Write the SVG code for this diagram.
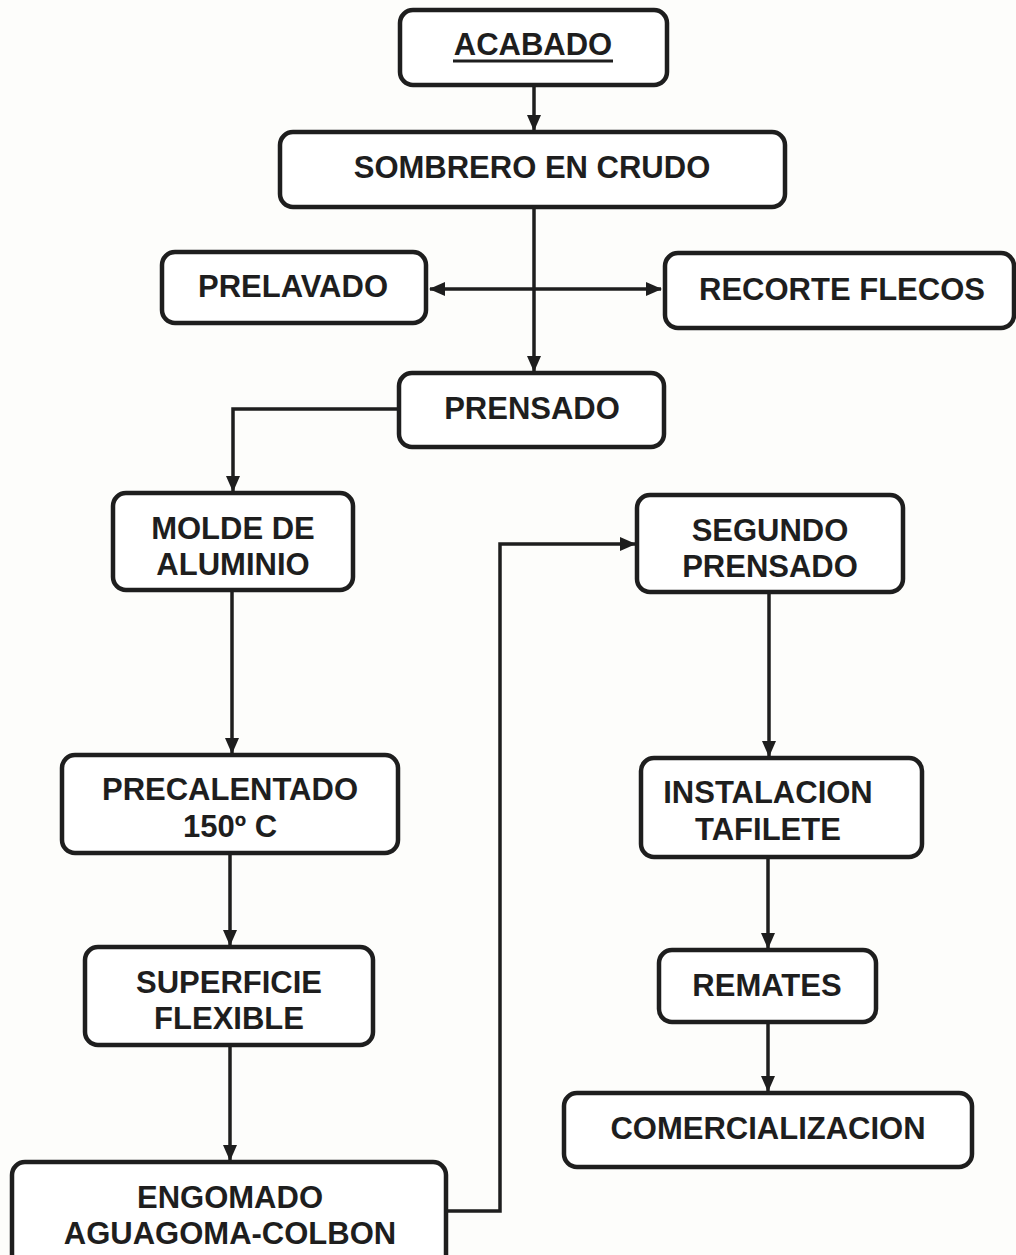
<svg xmlns="http://www.w3.org/2000/svg" width="1016" height="1255" viewBox="0 0 1016 1255">
<style>
.box{fill:#ffffff;stroke:#1e1e1e;stroke-width:4.5}
.t{font-family:"Liberation Sans",Arial,sans-serif;font-weight:bold;font-size:31px;fill:#1e1e1e;text-anchor:middle}
.c{fill:none;stroke:#1e1e1e;stroke-width:3.5}
</style>
<defs>
<marker id="ah" markerUnits="userSpaceOnUse" markerWidth="16" markerHeight="14" refX="15" refY="7" orient="auto-start-reverse">
<path d="M0,0 L16,7 L0,14 Z" fill="#1e1e1e"/>
</marker>
</defs>
<rect width="1016" height="1255" fill="#fdfdfb"/>
<g id="connectors">
<line class="c" x1="534" y1="85" x2="534" y2="130" marker-end="url(#ah)"/>
<line class="c" x1="534" y1="207" x2="534" y2="371" marker-end="url(#ah)"/>
<line class="c" x1="430" y1="289" x2="661" y2="289" marker-start="url(#ah)" marker-end="url(#ah)"/>
<path class="c" d="M399,409 H233 V491" marker-end="url(#ah)"/>
<line class="c" x1="232" y1="590" x2="232" y2="753" marker-end="url(#ah)"/>
<line class="c" x1="230" y1="853" x2="230" y2="945" marker-end="url(#ah)"/>
<line class="c" x1="230" y1="1045" x2="230" y2="1160" marker-end="url(#ah)"/>
<path class="c" d="M446,1211 H500 V544 H635" marker-end="url(#ah)"/>
<line class="c" x1="769" y1="592" x2="769" y2="756" marker-end="url(#ah)"/>
<line class="c" x1="768" y1="857" x2="768" y2="948" marker-end="url(#ah)"/>
<line class="c" x1="768" y1="1022" x2="768" y2="1091" marker-end="url(#ah)"/>
</g>
<g id="acabado">
<rect class="box" x="400" y="10" width="267" height="75" rx="13"/>
<text class="t" x="533" y="55">ACABADO</text>
<line x1="453" y1="61" x2="613" y2="61" stroke="#1e1e1e" stroke-width="3"/>
</g>
<g id="sombrero">
<rect class="box" x="280" y="132" width="505" height="75" rx="13"/>
<text class="t" x="532" y="178">SOMBRERO EN CRUDO</text>
</g>
<g id="prelavado">
<rect class="box" x="162" y="252" width="264" height="71" rx="13"/>
<text class="t" x="293" y="297">PRELAVADO</text>
</g>
<g id="recorte">
<rect class="box" x="665" y="253" width="349" height="75" rx="13"/>
<text class="t" x="842" y="300">RECORTE FLECOS</text>
</g>
<g id="prensado">
<rect class="box" x="399" y="373" width="265" height="74" rx="13"/>
<text class="t" x="532" y="419">PRENSADO</text>
</g>
<g id="molde">
<rect class="box" x="113" y="493" width="240" height="97" rx="13"/>
<text class="t" x="233" y="539">MOLDE DE</text>
<text class="t" x="233" y="575">ALUMINIO</text>
</g>
<g id="segundo">
<rect class="box" x="637" y="495" width="266" height="97" rx="13"/>
<text class="t" x="770" y="541">SEGUNDO</text>
<text class="t" x="770" y="577">PRENSADO</text>
</g>
<g id="precalentado">
<rect class="box" x="62" y="755" width="336" height="98" rx="13"/>
<text class="t" x="230" y="800">PRECALENTADO</text>
<text class="t" x="230" y="837">150º C</text>
</g>
<g id="instalacion">
<rect class="box" x="641" y="758" width="281" height="99" rx="13"/>
<text class="t" x="768" y="803">INSTALACION</text>
<text class="t" x="768" y="840">TAFILETE</text>
</g>
<g id="superficie">
<rect class="box" x="85" y="947" width="288" height="98" rx="13"/>
<text class="t" x="229" y="993">SUPERFICIE</text>
<text class="t" x="229" y="1029">FLEXIBLE</text>
</g>
<g id="remates">
<rect class="box" x="659" y="950" width="217" height="72" rx="13"/>
<text class="t" x="767" y="996">REMATES</text>
</g>
<g id="comercializacion">
<rect class="box" x="564" y="1093" width="408" height="74" rx="13"/>
<text class="t" x="768" y="1139">COMERCIALIZACION</text>
</g>
<g id="engomado">
<rect class="box" x="12" y="1162" width="434" height="110" rx="13"/>
<text class="t" x="230" y="1208">ENGOMADO</text>
<text class="t" x="230" y="1244">AGUAGOMA-COLBON</text>
</g>
</svg>
